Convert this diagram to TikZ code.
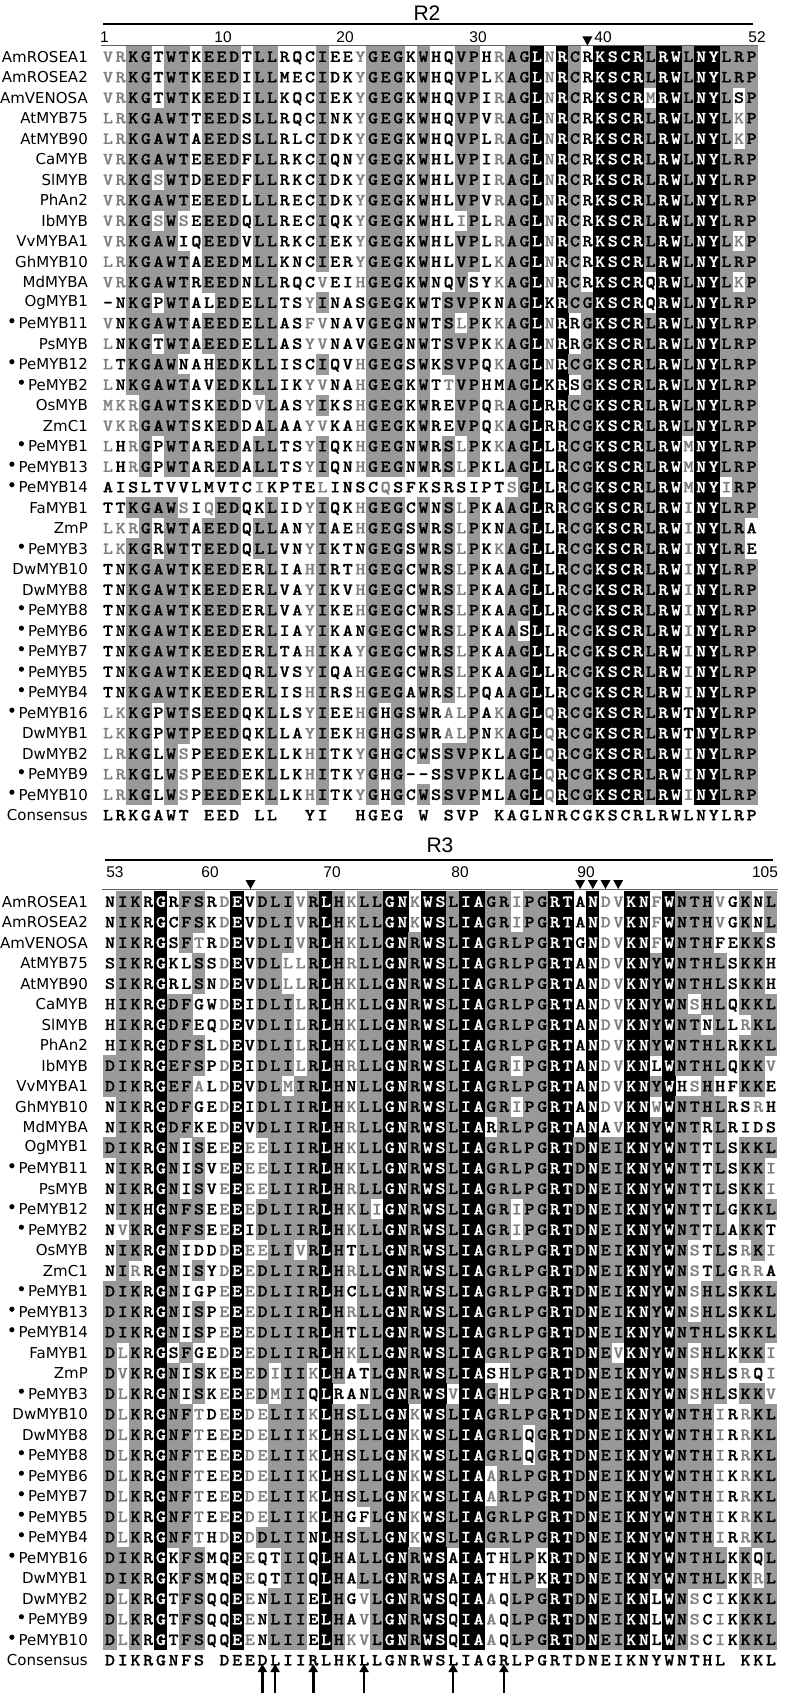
\documentclass[tikz,border=0pt]{standalone}
\usepackage{fontspec}
\usetikzlibrary{arrows.meta}
\setmainfont{DejaVu Sans}
\newfontfamily\alnLabFont{DejaVu Sans}
\newfontfamily\alnNumFont{Liberation Sans}
\newfontfamily\alnSeqFont[FakeStretch=1.12,FakeBold=1]{lmmonolt10-bold.otf}
\definecolor{shgrey}{gray}{0.6}
\definecolor{txgrey}{gray}{0.5}
\definecolor{lnGreen}{RGB}{30,140,30}
\tikzset{
  seqrow/.style={inner sep=0pt, text height=10.4pt, text depth=0pt, anchor=west, font=\alnSeqFont\fontsize{17}{17}\selectfont},
  lab/.style={inner sep=0pt, anchor=east, font=\alnLabFont\fontsize{15}{15}\selectfont},
  numlab/.style={inner sep=0pt, font=\alnNumFont\fontsize{15.5}{15.5}\selectfont},
  ttl/.style={inner sep=0pt, font=\alnNumFont\fontsize{21}{21}\selectfont},
  toprule/.style={line width=1.6pt},
  grn/.style={draw=lnGreen, line width=1.4pt},
  uparr/.style={line width=2.6pt, -{Triangle[width=9pt,length=8pt]}},
}
\ExplSyntaxOn
\int_new:N \l_aln_i_int
\int_new:N \g_aln_row_int
\tl_new:N \l_aln_c_tl
\tl_new:N \l_aln_ch_tl
\tl_new:N \l_aln_l_tl
\tl_new:N \l_aln_s_tl
\tl_new:N \l_aln_bg_tl
\tl_new:N \l_aln_tx_tl
\tl_new:N \l_aln_x_tl
\tl_new:N \l_aln_xe_tl
\tl_new:N \l_aln_ya_tl
\tl_new:N \l_aln_yb_tl
\tl_new:N \l_aln_text_tl
\tl_new:N \l_aln_runbg_tl
\tl_new:N \l_aln_runstart_tl
\tl_new:N \l_aln_runend_tl
\bool_new:N \l_aln_sim_bool
\clist_const:Nn \c_aln_groups_clist {DE,EQ,NQ,ST,AS,AG,KR,FYWH,LIVM}
\seq_new:N \g_aln_twoc_seq
\seq_new:N \g_aln_thrc_seq
\seq_gset_split:Nnn \g_aln_twoc_seq {/}
  {L/R/K/G/A/W/T/x/E/E/D/x/L/L/x/x/Y/I/x/x/H/G/E/G/x/W/x/S/V/P/x/K/A/G/L/N/R/C/G/K/S/C/R/L/R/W/L/N/Y/L/R/P}
\seq_gset_split:Nnn \g_aln_thrc_seq {/}
  {D/I/K/R/G/NDE/F/S/x/D/E/E/D/L/I/I/R/L/H/K/L/L/G/N/R/W/S/L/I/A/G/R/L/P/G/R/T/D/N/E/I/K/N/Y/W/N/T/H/L/x/K/K/L}
\tl_const:Nn \c_aln_twol_tl {llgggggngggnggnnlgnnlgggngngggnlggklkggkkkkgkkgkkggg}
\tl_const:Nn \c_aln_thrl_tl {gggnkgggnlklgggggkglggkkgkkgkkgggggkkgkggkkgkggggnggg}
\tl_const:Nn \c_aln_alln_tl {nnnnnnnnnnnnnnnnnnnnnnnnnnnnnnnnnnnnnnnnnnnnnnnnnnnnn}

\cs_new_protected:Npn \aln_check_similar:
  {
    \bool_set_false:N \l_aln_sim_bool
    \clist_map_inline:Nn \c_aln_groups_clist
      {
        \exp_args:NnV \tl_if_in:nnT {##1} \l_aln_s_tl
          {
            \exp_args:NnV \tl_if_in:nnT {##1} \l_aln_ch_tl
              { \bool_set_true:N \l_aln_sim_bool }
          }
      }
  }

\cs_new_protected:Npn \aln_fillrect:nnnn #1#2#3#4
  { \fill[#1](#2-0.3,#4-10.55)rectangle(#3+0.3,#4+10.55); }

\cs_new_protected:Npn \aln_flush:n #1
  {
    \str_if_eq:eeF {\l_aln_runbg_tl} {none}
      {
        \use:x
          {
            \exp_not:N \aln_fillrect:nnnn {\l_aln_runbg_tl}
              {\l_aln_runstart_tl} {\l_aln_runend_tl} {#1}
          }
      }
  }

\cs_new_protected:Npn \aln_row:nnnnNNn #1#2#3#4#5#6#7
  {
    \int_zero:N \l_aln_i_int
    \tl_clear:N \l_aln_text_tl
    \tl_set:Nn \l_aln_runbg_tl {none}
    \tl_map_inline:nn {#7}
      {
        \int_incr:N \l_aln_i_int
        \tl_set:Nx \l_aln_c_tl { \seq_item:Nn #5 { \l_aln_i_int } }
        \tl_set:Nx \l_aln_ch_tl { \tl_head:N \l_aln_c_tl }
        \tl_set:Nx \l_aln_l_tl { \tl_item:Nn #6 { \l_aln_i_int } }
        \tl_set:Nn \l_aln_s_tl {##1}
        \tl_set:Nn \l_aln_bg_tl {none}
        \tl_set:Nn \l_aln_tx_tl {black}
        \exp_args:NVV \tl_if_in:nnTF \l_aln_c_tl \l_aln_s_tl
          {
            \exp_args:NV \str_case:nn \l_aln_l_tl
              {
                {k} { \tl_set:Nn \l_aln_bg_tl {black} \tl_set:Nn \l_aln_tx_tl {white} }
                {g} { \tl_set:Nn \l_aln_bg_tl {shgrey} }
                {l} { \tl_set:Nn \l_aln_tx_tl {txgrey} }
              }
          }
          {
            \str_if_eq:eeF {\l_aln_l_tl} {n}
              {
                \aln_check_similar:
                \bool_if:NT \l_aln_sim_bool { \tl_set:Nn \l_aln_tx_tl {txgrey} }
              }
          }
        \tl_set:Nx \l_aln_x_tl { \fp_eval:n { #3 + (\l_aln_i_int - 1) * #4 } }
        \tl_set:Nx \l_aln_xe_tl { \fp_eval:n { \l_aln_x_tl + #4 } }
        \str_if_eq:eeTF {\l_aln_bg_tl} {\l_aln_runbg_tl}
          { \tl_set_eq:NN \l_aln_runend_tl \l_aln_xe_tl }
          {
            \aln_flush:n {#2}
            \tl_set_eq:NN \l_aln_runbg_tl \l_aln_bg_tl
            \tl_set_eq:NN \l_aln_runstart_tl \l_aln_x_tl
            \tl_set_eq:NN \l_aln_runend_tl \l_aln_xe_tl
          }
        \str_if_eq:nnTF {##1} {.}
          { \tl_put_right:Nn \l_aln_text_tl { \hbox_to_wd:nn {#4pt} { } } }
          {
            \str_if_eq:eeTF {\l_aln_tx_tl} {black}
              { \tl_put_right:Nn \l_aln_text_tl { \hbox_to_wd:nn {#4pt} { \hfil ##1 \hfil } } }
              {
                \tl_put_right:Nx \l_aln_text_tl
                  {
                    \exp_not:N \hbox_to_wd:nn {#4pt}
                      { \exp_not:N \hfil \exp_not:N \color {\l_aln_tx_tl} ##1 \exp_not:N \hfil }
                  }
              }
          }
      }
    \aln_flush:n {#2}
    \node[seqrow](#1)at(#3,#2){\l_aln_text_tl};
  }

\cs_new_protected:Npn \aln_label:nnnn #1#2#3#4
  {
    \node[lab](#1)at(88,#2){#3};
    \int_compare:nNnT {#4} = {1}
      { \fill(#1.west)++(-6.5,-2.5)circle(2.6pt); }
  }

\cs_new_protected:Npn \aln_species:nnnn #1#2#3#4
  {
    \int_gincr:N \g_aln_row_int
    \tl_set:Nx \l_aln_ya_tl { \fp_eval:n { 56.7 + (\g_aln_row_int - 1) * 20.5 } }
    \tl_set:Nx \l_aln_yb_tl { \fp_eval:n { 901.7 + (\g_aln_row_int - 1) * 20.5 } }
    \use:x
      {
        \exp_not:N \aln_label:nnnn {la\int_use:N \g_aln_row_int} {\l_aln_ya_tl} {\exp_not:n {#1}} {#2}
        \exp_not:N \aln_label:nnnn {lb\int_use:N \g_aln_row_int} {\l_aln_yb_tl} {\exp_not:n {#1}} {#2}
        \exp_not:N \aln_row:nnnnNNn {ra\int_use:N \g_aln_row_int} {\l_aln_ya_tl} {101.5} {12.62}
          \exp_not:N \g_aln_twoc_seq \exp_not:N \c_aln_twol_tl {\exp_not:n {#3}}
        \exp_not:N \aln_row:nnnnNNn {rb\int_use:N \g_aln_row_int} {\l_aln_yb_tl} {103.5} {12.71}
          \exp_not:N \g_aln_thrc_seq \exp_not:N \c_aln_thrl_tl {\exp_not:n {#4}}
      }
  }

\cs_new_protected:Npn \aln_consensus:nn #1#2
  {
    \int_gincr:N \g_aln_row_int
    \tl_set:Nx \l_aln_ya_tl { \fp_eval:n { 56.7 + (\g_aln_row_int - 1) * 20.5 } }
    \tl_set:Nx \l_aln_yb_tl { \fp_eval:n { 901.7 + (\g_aln_row_int - 1) * 20.5 } }
    \use:x
      {
        \exp_not:N \aln_label:nnnn {la\int_use:N \g_aln_row_int} {\l_aln_ya_tl} {Consensus} {0}
        \exp_not:N \aln_label:nnnn {lb\int_use:N \g_aln_row_int} {\l_aln_yb_tl} {Consensus} {0}
        \exp_not:N \aln_row:nnnnNNn {ra\int_use:N \g_aln_row_int} {\l_aln_ya_tl} {101.5} {12.62}
          \exp_not:N \g_aln_twoc_seq \exp_not:N \c_aln_alln_tl {\exp_not:n {#1}}
        \exp_not:N \aln_row:nnnnNNn {rb\int_use:N \g_aln_row_int} {\l_aln_yb_tl} {103.5} {12.71}
          \exp_not:N \g_aln_thrc_seq \exp_not:N \c_aln_alln_tl {\exp_not:n {#2}}
      }
  }
\cs_new_eq:NN \alnSpecies \aln_species:nnnn
\cs_new_eq:NN \alnConsensus \aln_consensus:nn
\ExplSyntaxOff

\begin{document}
\begin{tikzpicture}[x=1pt,y=-1pt]
\useasboundingbox (0,0) rectangle (793,1694);
\fill[white] (0,0) rectangle (793,1694);

\alnSpecies{AmROSEA1}{0}{VRKGTWTKEEDTLLRQCIEEYGEGKWHQVPHRAGLNRCRKSCRLRWLNYLRP}{NIKRGRFSRDEVDLIVRLHKLLGNKWSLIAGRIPGRTANDVKNFWNTHVGKNL}
\alnSpecies{AmROSEA2}{0}{VRKGTWTKEEDILLMECIDKYGEGKWHQVPLKAGLNRCRKSCRLRWLNYLRP}{NIKRGCFSKDEVDLIVRLHKLLGNKWSLIAGRIPGRTANDVKNFWNTHVGKNL}
\alnSpecies{AmVENOSA}{0}{VRKGTWTKEEDILLKQCIEKYGEGKWHQVPIRAGLNRCRKSCRMRWLNYLSP}{NIKRGSFTRDEVDLIVRLHKLLGNRWSLIAGRLPGRTGNDVKNFWNTHFEKKS}
\alnSpecies{AtMYB75}{0}{LRKGAWTTEEDSLLRQCINKYGEGKWHQVPVRAGLNRCRKSCRLRWLNYLKP}{SIKRGKLSSDEVDLLLRLHRLLGNRWSLIAGRLPGRTANDVKNYWNTHLSKKH}
\alnSpecies{AtMYB90}{0}{LRKGAWTAEEDSLLRLCIDKYGEGKWHQVPLRAGLNRCRKSCRLRWLNYLKP}{SIKRGRLSNDEVDLLLRLHKLLGNRWSLIAGRLPGRTANDVKNYWNTHLSKKH}
\alnSpecies{CaMYB}{0}{VRKGAWTEEEDFLLRKCIQNYGEGKWHLVPIRAGLNRCRKSCRLRWLNYLRP}{HIKRGDFGWDEIDLILRLHKLLGNRWSLIAGRLPGRTANDVKNYWNSHLQKKL}
\alnSpecies{SlMYB}{0}{VRKGSWTDEEDFLLRKCIDKYGEGKWHLVPIRAGLNRCRKSCRLRWLNYLRP}{HIKRGDFEQDEVDLILRLHKLLGNRWSLIAGRLPGRTANDVKNYWNTNLLRKL}
\alnSpecies{PhAn2}{0}{VRKGAWTEEEDLLLRECIDKYGEGKWHLVPVRAGLNRCRKSCRLRWLNYLRP}{HIKRGDFSLDEVDLILRLHKLLGNRWSLIAGRLPGRTANDVKNYWNTHLRKKL}
\alnSpecies{IbMYB}{0}{VRKGSWSEEEDQLLRECIQKYGEGKWHLIPLRAGLNRCRKSCRLRWLNYLRP}{DIKRGEFSPDEIDLILRLHRLLGNRWSLIAGRIPGRTANDVKNLWNTHLQKKV}
\alnSpecies{VvMYBA1}{0}{VRKGAWIQEEDVLLRKCIEKYGEGKWHLVPLRAGLNRCRKSCRLRWLNYLKP}{DIKRGEFALDEVDLMIRLHNLLGNRWSLIAGRLPGRTANDVKNYWHSHHFKKE}
\alnSpecies{GhMYB10}{0}{LRKGAWTAEEDMLLKNCIERYGEGKWHLVPLKAGLNRCRKSCRLRWLNYLRP}{NIKRGDFGEDEIDLIIRLHKLLGNRWSLIAGRIPGRTANDVKNWWNTHLRSRH}
\alnSpecies{MdMYBA}{0}{VRKGAWTREEDNLLRQCVEIHGEGKWNQVSYKAGLNRCRKSCRQRWLNYLKP}{NIKRGDFKEDEVDLIIRLHRLLGNRWSLIARRLPGRTANAVKNYWNTRLRIDS}
\alnSpecies{OgMYB1}{0}{-NKGPWTALEDELLTSYINASGEGKWTSVPKNAGLKRCGKSCRQRWLNYLRP}{DIKRGNISEEEEELIIRLHKLLGNRWSLIAGRLPGRTDNEIKNYWNTTLSKKL}
\alnSpecies{PeMYB11}{1}{VNKGAWTAEEDELLASFVNAVGEGNWTSLPKKAGLNRRGKSCRLRWLNYLRP}{NIKRGNISVEEEELIIRLHKLLGNRWSLIAGRLPGRTDNEIKNYWNTTLSKKI}
\alnSpecies{PsMYB}{0}{LNKGTWTAEEDELLASYVNAVGEGNWTSVPKKAGLNRRGKSCRLRWLNYLRP}{NIKRGNISVEEEELIIRLHRLLGNRWSLIAGRLPGRTDNEIKNYWNTTLSKKI}
\alnSpecies{PeMYB12}{1}{LTKGAWNAHEDKLLISCIQVHGEGSWKSVPQKAGLNRCGKSCRLRWLNYLRP}{NIKHGNFSEEEEDLIIRLHKLIGNRWSLIAGRIPGRTDNEIKNYWNTTLGKKL}
\alnSpecies{PeMYB2}{1}{LNKGAWTAVEDKLLIKYVNAHGEGKWTTVPHMAGLKRSGKSCRLRWLNYLRP}{NVKRGNFSEEEIDLIIRLHKLLGNRWSLIAGRIPGRTDNEIKNYWNTTLAKKT}
\alnSpecies{OsMYB}{0}{MKRGAWTSKEDDVLASYIKSHGEGKWREVPQRAGLRRCGKSCRLRWLNYLRP}{NIKRGNIDDDEEELIVRLHTLLGNRWSLIAGRLPGRTDNEIKNYWNSTLSRKI}
\alnSpecies{ZmC1}{0}{VKRGAWTSKEDDALAAYVKAHGEGKWREVPQKAGLRRCGKSCRLRWLNYLRP}{NIRRGNISYDEEDLIIRLHRLLGNRWSLIAGRLPGRTDNEIKNYWNSTLGRRA}
\alnSpecies{PeMYB1}{1}{LHRGPWTAREDALLTSYIQKHGEGNWRSLPKKAGLLRCGKSCRLRWMNYLRP}{DIKRGNIGPEEEDLIIRLHCLLGNRWSLIAGRLPGRTDNEIKNYWNSHLSKKL}
\alnSpecies{PeMYB13}{1}{LHRGPWTAREDALLTSYIQNHGEGNWRSLPKLAGLLRCGKSCRLRWMNYLRP}{DIKRGNISPEEEDLIIRLHRLLGNRWSLIAGRLPGRTDNEIKNYWNSHLSKKL}
\alnSpecies{PeMYB14}{1}{AISLTVVLMVTCIKPTELINSCQSFKSRSIPTSGLLRCGKSCRLRWMNYIRP}{DIKRGNISPEEEDLIIRLHTLLGNRWSLIAGRLPGRTDNEIKNYWNTHLSKKL}
\alnSpecies{FaMYB1}{0}{TTKGAWSIQEDQKLIDYIQKHGEGCWNSLPKAAGLRRCGKSCRLRWINYLRP}{DLKRGSFGEDEEDLIIRLHKLLGNRWSLIAGRLPGRTDNEVKNYWNSHLKKKI}
\alnSpecies{ZmP}{0}{LKRGRWTAEEDQLLANYIAEHGEGSWRSLPKNAGLLRCGKSCRLRWINYLRA}{DVKRGNISKEEEDIIIKLHATLGNRWSLIASHLPGRTDNEIKNYWNSHLSRQI}
\alnSpecies{PeMYB3}{1}{LKKGRWTTEEDQLLVNYIKTNGEGSWRSLPKKAGLLRCGKSCRLRWINYLRE}{DLKRGNISKEEEDMIIQLRANLGNRWSVIAGHLPGRTDNEIKNYWNSHLSKKV}
\alnSpecies{DwMYB10}{0}{TNKGAWTKEEDERLIAHIRTHGEGCWRSLPKAAGLLRCGKSCRLRWINYLRP}{DLKRGNFTDEEDELIIKLHSLLGNKWSLIAGRLPGRTDNEIKNYWNTHIRRKL}
\alnSpecies{DwMYB8}{0}{TNKGAWTKEEDERLVAYIKVHGEGCWRSLPKAAGLLRCGKSCRLRWINYLRP}{DLKRGNFTEEEDELIIKLHSLLGNKWSLIAGRLQGRTDNEIKNYWNTHIRRKL}
\alnSpecies{PeMYB8}{1}{TNKGAWTKEEDERLVAYIKEHGEGCWRSLPKAAGLLRCGKSCRLRWINYLRP}{DLKRGNFTEEEDELIIKLHSLLGNKWSLIAGRLQGRTDNEIKNYWNTHIRRKL}
\alnSpecies{PeMYB6}{1}{TNKGAWTKEEDERLIAYIKANGEGCWRSLPKAASLLRCGKSCRLRWINYLRP}{DLKRGNFTEEEDELIIKLHSLLGNKWSLIAARLPGRTDNEIKNYWNTHIKRKL}
\alnSpecies{PeMYB7}{1}{TNKGAWTKEEDERLTAHIKAYGEGCWRSLPKAAGLLRCGKSCRLRWINYLRP}{DLKRGNFTEEEDELIIKLHSLLGNKWSLIAARLPGRTDNEIKNYWNTHIRRKL}
\alnSpecies{PeMYB5}{1}{TNKGAWTKEEDQRLVSYIQAHGEGCWRSLPKAAGLLRCGKSCRLRWINYLRP}{DLKRGNFTEEEDELIIKLHGFLGNKWSLIAGRLPGRTDNEIKNYWNTHIKRKL}
\alnSpecies{PeMYB4}{1}{TNKGAWTKEEDERLISHIRSHGEGAWRSLPQAAGLLRCGKSCRLRWINYLRP}{DLKRGNFTHDEDDLIINLHSLLGNKWSLIAGRLPGRTDNEIKNYWNTHIRRKL}
\alnSpecies{PeMYB16}{1}{LKKGPWTSEEDQKLLSYIEEHGHGSWRALPAKAGLQRCGKSCRLRWTNYLRP}{DIKRGKFSMQEEQTIIQLHALLGNRWSAIATHLPKRTDNEIKNYWNTHLKKQL}
\alnSpecies{DwMYB1}{0}{LKKGPWTPEEDQKLLAYIEKHGHGSWRALPNKAGLQRCGKSCRLRWTNYLRP}{DIKRGKFSMQEEQTIIQLHALLGNRWSAIATHLPKRTDNEIKNYWNTHLKKRL}
\alnSpecies{DwMYB2}{0}{LRKGLWSPEEDEKLLKHITKYGHGCWSSVPKLAGLQRCGKSCRLRWINYLRP}{DLKRGTFSQQEENLIIELHGVLGNRWSQIAAQLPGRTDNEIKNLWNSCIKKKL}
\alnSpecies{PeMYB9}{1}{LRKGLWSPEEDEKLLKHITKYGHG--SSVPKLAGLQRCGKSCRLRWINYLRP}{DLKRGTFSQQEENLIIELHAVLGNRWSQIAAQLPGRTDNEIKNLWNSCIKKKL}
\alnSpecies{PeMYB10}{1}{LRKGLWSPEEDEKLLKHITKYGHGCWSSVPMLAGLQRCGKSCRLRWINYLRP}{DLKRGTFSQQEENLIIELHKVLGNRWSQIAAQLPGRTDNEIKNLWNSCIKKKL}
\alnConsensus{LRKGAWT.EED.LL..YI..HGEG.W.SVP.KAGLNRCGKSCRLRWLNYLRP}{DIKRGNFS.DEEDLIIRLHKLLGNRWSLIAGRLPGRTDNEIKNYWNTHL.KKL}

% thin white gap line in R3
\draw[white, line width=1.1pt] (143.3,891.2) -- (143.3,1650);

% R2 header
\node[ttl] (tR2) at (427,13.5) {R2};
\draw[toprule] (103,24) -- (753,24);
\node[numlab] (n1) at (104.5,37) {1};
\node[numlab] (n10) at (223,37) {10};
\node[numlab] (n20) at (345,37) {20};
\node[numlab] (n30) at (478,37) {30};
\node[numlab] (n40) at (603,37) {40};
\node[numlab] (n52) at (757,37) {52};
\draw[grn] (101,45.8) -- (757.5,45.8);
\fill (582.4,36.5) -- (592.4,36.5) -- (587.4,45.5) -- cycle;

% R3 header
\node[ttl] (tR3) at (440,845) {R3};
\draw[toprule] (105,860) -- (773,860);
\node[numlab] (n53) at (115,872) {53};
\node[numlab] (n60) at (210,872) {60};
\node[numlab] (n70) at (332,872) {70};
\node[numlab] (n80) at (460,872) {80};
\node[numlab] (n90) at (586,872) {90};
\node[numlab] (n105) at (765,872) {105};
\draw[grn] (102,889.5) -- (777.5,889.5);
\foreach \cx in {250.5,580.1,592.8,605.5,618.2}{
  \fill (\cx-5,880) -- (\cx+5,880) -- (\cx,889) -- cycle;
}

% arrows under consensus
\foreach \k/\cx in {1/262.4,2/275.1,3/313.2,4/364.1,5/453.1,6/503.9}{
  \coordinate (ua\k) at (\cx,1693);
  \coordinate (ub\k) at (\cx,1664);
  \draw[uparr] (ua\k) -- (ub\k);
}
\end{tikzpicture}
\end{document}
